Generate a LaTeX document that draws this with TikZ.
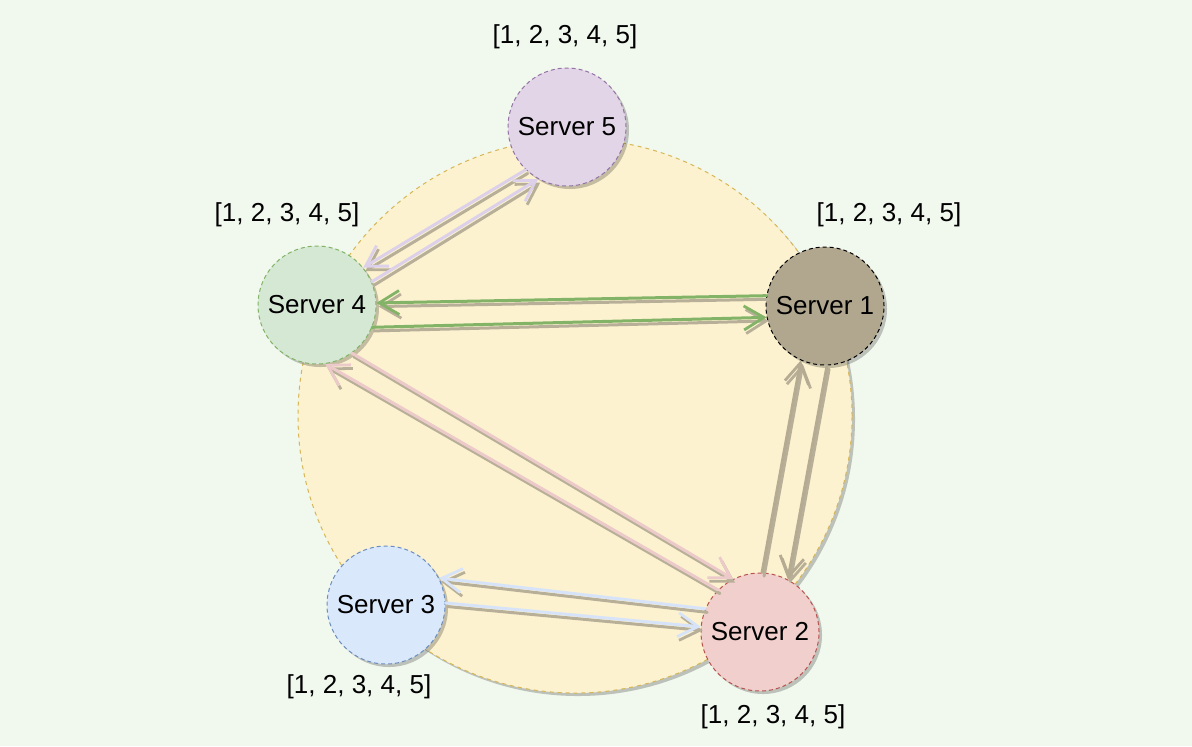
\documentclass[tikz,border=0pt]{standalone}
\usepackage{fontspec}
\setmainfont{Liberation Sans}
\usetikzlibrary{arrows.meta,shadows}

\definecolor{bgcol}{HTML}{F1F8EE}
\definecolor{ringfill}{HTML}{FCF2CF}
\definecolor{ringline}{HTML}{D6B656}
\definecolor{linkshade}{HTML}{B8AF98}
\definecolor{purplelink}{HTML}{DCD0EA}
\definecolor{greenlink}{HTML}{82B366}
\definecolor{taupelink}{HTML}{B5AA92}
\definecolor{bluelink}{HTML}{D6E3F8}
\definecolor{pinklink}{HTML}{EDCACA}

\tikzset{
  server/.style={circle, dashed, dash pattern=on 2pt off 1.5pt, line width=0.5pt, inner sep=0pt,
    minimum size=59pt, font=\fontsize{13}{15}\selectfont,
    drop shadow={shadow xshift=1.5pt, shadow yshift=-1.5pt, fill=black, opacity=0.22}},
  vec/.style={font=\fontsize{13}{15}\selectfont},
  link/.style={line width=1.5pt, line cap=round,
    -{Straight Barb[length=10pt,width=12pt,line width=1.4pt]}},
}

% #1-from node.angle  #2-to node.angle  #3-colour
\newcommand{\serverlink}[3]{%
  \draw[link, draw=linkshade, transform canvas={shift={(1pt,-1.8pt)}}] (#1) -- (#2);
  \draw[link, draw=#3] (#1) -- (#2);
}

\begin{document}
\begin{tikzpicture}[x=0.5pt,y=-0.5pt]
    \fill[bgcol] (0,0) rectangle (1192,746);
    \useasboundingbox (0,0) rectangle (1192,746);

    % ring
    \node[circle, draw=ringline, fill=ringfill, dashed, dash pattern=on 2pt off 2pt, line width=0.5pt,
      minimum size=277pt, inner sep=0pt,
      drop shadow={shadow xshift=1.5pt, shadow yshift=-1.5pt, fill=black, opacity=0.22}] (ring) at (575,416) {};

    % servers
    \node[server, draw=black, fill={rgb,255:red,177;green,167;blue,143}] (s1) at (825,306) {Server 1};
    \node[server, draw={rgb,255:red,184;green,84;blue,80}, fill={rgb,255:red,240;green,207;blue,204}] (s2) at (760,632) {Server 2};
    \node[server, draw={rgb,255:red,108;green,142;blue,191}, fill={rgb,255:red,218;green,232;blue,252}] (s3) at (386,605) {Server 3};
    \node[server, draw={rgb,255:red,130;green,179;blue,102}, fill={rgb,255:red,213;green,232;blue,212}] (s4) at (317,305) {Server 4};
    \node[server, draw={rgb,255:red,150;green,115;blue,166}, fill={rgb,255:red,225;green,213;blue,231}] (s5) at (567,127) {Server 5};

    % logs
    \node[vec] (v5) at (565,37) {[1, 2, 3, 4, 5]};
    \node[vec] (v4) at (287,215) {[1, 2, 3, 4, 5]};
    \node[vec] (v1) at (889,215) {[1, 2, 3, 4, 5]};
    \node[vec] (v3) at (359,687) {[1, 2, 3, 4, 5]};
    \node[vec] (v2) at (773,717) {[1, 2, 3, 4, 5]};

    % links
    \serverlink{s5.226}{s4.39}{purplelink}
    \serverlink{s4.23}{s5.241}{purplelink}
    \serverlink{s1.170}{s4.2}{greenlink}
    \serverlink{s4.-22}{s1.191}{greenlink}
    \serverlink{s2.88}{s1.246}{taupelink}
    \serverlink{s1.272}{s2.62}{taupelink}
    \serverlink{s2.157}{s3.27}{bluelink}
    \serverlink{s3.2}{s2.175}{bluelink}
    \serverlink{s4.306}{s2.117}{pinklink}
    \serverlink{s2.135}{s4.278}{pinklink}
\end{tikzpicture}
\end{document}
